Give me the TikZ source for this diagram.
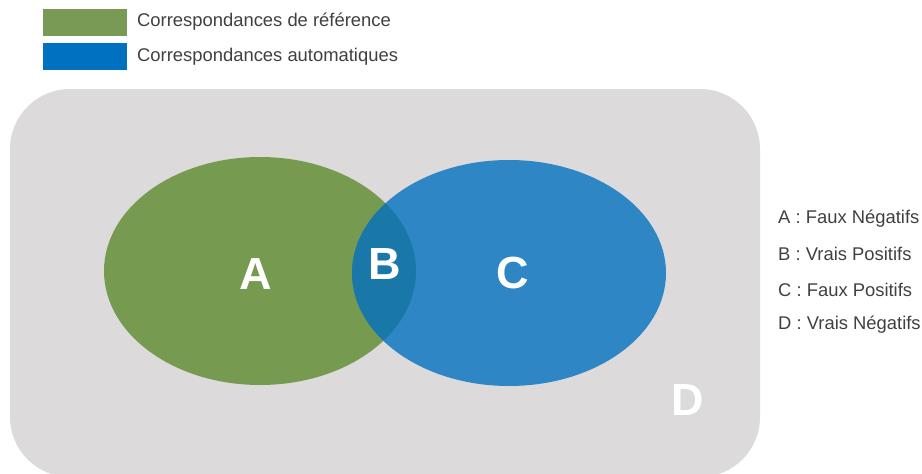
\documentclass[tikz,border=0pt]{standalone}
\usepackage{fontspec}
\setmainfont{Liberation Sans}
\definecolor{fondgris}{HTML}{DCDADB}
\definecolor{vertref}{HTML}{779A51}
\definecolor{bleuauto}{HTML}{2E86C5}
\definecolor{bleuinter}{HTML}{1A78A8}
\definecolor{legvert}{HTML}{799A55}
\definecolor{legbleu}{HTML}{0070C0}
\definecolor{texte}{HTML}{404040}
\tikzset{
  legende/.style={anchor=west, inner sep=0pt, text=texte, font=\fontsize{18.4}{20}\selectfont},
  lettre/.style={text=white, inner sep=0pt, font=\fontsize{45}{48}\selectfont\bfseries},
  cle/.style={anchor=west, inner sep=0pt, text=texte, font=\fontsize{18.4}{20}\selectfont}
}
\begin{document}
\begin{tikzpicture}[x=1pt, y=-1pt]
    \useasboundingbox (0,0) rectangle (922,474);

    % legende
    \fill[legvert] (43,9) rectangle (127,36);
    \fill[legbleu] (43,43) rectangle (127,70);
    \node[legende] (legref) at (137,22) {Correspondances de référence};
    \node[legende] (legauto) at (137,57) {Correspondances automatiques};

    % univers D
    \fill[fondgris, rounded corners=60pt] (10,89) rectangle (760,477);

    % ensembles A et C
    \fill[vertref] (260,271) ellipse [x radius=156, y radius=114];
    \fill[bleuauto] (509,273) ellipse [x radius=157, y radius=113];

    % intersection B
    \begin{scope}
      \clip (260,271) ellipse [x radius=156, y radius=114];
      \fill[bleuinter] (509,273) ellipse [x radius=157, y radius=113];
    \end{scope}

    % lettres
    \node[lettre] (zoneA) at (256,274) {A};
    \node[lettre] (zoneB) at (385,264) {B};
    \node[lettre] (zoneC) at (513,273) {C};
    \node[lettre] (zoneD) at (688,400) {D};

    % signification
    \node[cle] (cleA) at (778,219) {A : Faux Négatifs};
    \node[cle] (cleB) at (778,254) {B : Vrais Positifs};
    \node[cle] (cleC) at (778,290) {C : Faux Positifs};
    \node[cle] (cleD) at (778,325) {D : Vrais Négatifs};
\end{tikzpicture}
\end{document}
